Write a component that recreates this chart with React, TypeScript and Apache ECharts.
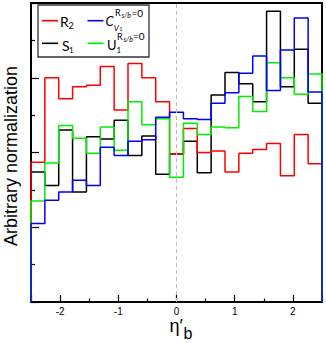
import React, { useEffect, useRef } from "react";
import * as echarts from "echarts";

// Histogram range and binning
const xMin = -2.5;
const xMax = 2.5;
const yMin = 0;
const yMax = 4;

// Bin contents (21 equal bins over [-2.5, 2.5]), arbitrary normalization
const valuesR2 = [1.87, 3.0, 2.72, 2.88, 2.9, 3.15, 2.57, 3.19, 3.0, 2.68, 1.98, 2.32, 2.0, 2.02, 1.74, 1.99, 2.04, 2.12, 1.69, 2.24, 1.85];
const valuesS1 = [1.74, 1.56, 2.3, 1.47, 2.21, 2.18, 2.43, 1.96, 2.22, 1.71, 1.98, 2.15, 1.73, 2.77, 3.07, 2.92, 2.68, 3.89, 2.88, 3.38, 2.66];
const valuesC = [1.05, 1.36, 1.47, 1.63, 1.56, 2.07, 1.96, 2.15, 2.17, 2.47, 2.54, 2.45, 2.44, 2.66, 2.8, 3.06, 3.29, 2.83, 3.37, 3.8, 2.81];
const valuesU = [1.35, 1.86, 2.36, 2.19, 1.99, 2.34, 2.03, 2.68, 2.37, 2.45, 1.67, 2.39, 2.24, 2.34, 2.33, 2.75, 2.55, 3.2, 3.0, 2.78, 3.05];

const COLORS = { R2: "#ff0000", S1: "#000000", C: "#0000ff", U: "#00ee00" };

function stepData(values: number[]): number[][] {
  const w = (xMax - xMin) / values.length;
  const pts: number[][] = [[xMin, 0]];
  values.forEach((v, i) => pts.push([xMin + i * w, v]));
  pts.push([xMax, values[values.length - 1]]);
  pts.push([xMax, 0]);
  return pts;
}

function histSeries(name: string, values: number[], color: string) {
  return {
    name,
    type: "line",
    step: "end",
    data: stepData(values),
    showSymbol: false,
    symbol: "none",
    clip: false,
    lineStyle: { color, width: 1.5 },
    itemStyle: { color },
    emphasis: { disabled: true },
  };
}

const SANS = "Liberation Sans";
const LEG = "Lato";

function txt(x: number, y: number, text: string, fontSize: number, opts: any = {}) {
  return {
    type: "text",
    x,
    y,
    z: 101,
    style: {
      text,
      fontSize,
      lineHeight: fontSize,
      fontFamily: opts.fontFamily || LEG,
      fontStyle: opts.italic ? "italic" : "normal",
      fill: "#000",
      align: opts.align || "left",
      verticalAlign: "middle",
    },
  };
}

export default function App() {
  const ref = useRef<HTMLDivElement>(null);
  useEffect(() => {
    if (!ref.current) return;
    const chart = echarts.init(ref.current, null, { renderer: "svg" });
    const legendLine = (x1: number, y: number, color: string) => ({
      type: "line",
      z: 101,
      shape: { x1, y1: y, x2: x1 + 16, y2: y },
      style: { stroke: color, lineWidth: 1.6 },
    });
    chart.setOption({
      animation: false,
      grid: { left: 31, right: 4, top: 3, bottom: 41, containLabel: false },
      xAxis: [
        {
          type: "value",
          min: xMin,
          max: xMax,
          position: "bottom",
          axisLine: { show: true, onZero: false, lineStyle: { color: "#000", width: 2 } },
          axisTick: { show: true, inside: true, length: 7, lineStyle: { color: "#000", width: 1.2 } },
          minorTick: { show: true, splitNumber: 2, length: 3.5, lineStyle: { color: "#000", width: 1.2 } },
          splitLine: { show: false },
          axisLabel: {
            show: true,
            margin: 4,
            fontSize: 10,
            fontFamily: SANS,
            color: "#000",
            formatter: (v: number) => (Number.isInteger(v) ? String(v) : ""),
          },
        },
        {
          type: "value",
          min: xMin,
          max: xMax,
          position: "top",
          axisLine: { show: true, onZero: false, lineStyle: { color: "#000", width: 2 } },
          axisTick: { show: false },
          axisLabel: { show: false },
          splitLine: { show: false },
        },
      ],
      yAxis: [
        {
          type: "value",
          min: yMin,
          max: yMax,
          interval: 1,
          position: "left",
          axisLine: { show: true, onZero: false, lineStyle: { color: "#000", width: 2 } },
          axisTick: { show: true, inside: true, length: 8, lineStyle: { color: "#000", width: 1.2 } },
          minorTick: { show: true, splitNumber: 2, length: 4, lineStyle: { color: "#000", width: 1.2 } },
          axisLabel: { show: false },
          splitLine: { show: false },
        },
        {
          type: "value",
          min: yMin,
          max: yMax,
          interval: 1,
          position: "right",
          axisLine: { show: true, onZero: false, lineStyle: { color: "#000", width: 2 } },
          axisTick: { show: false },
          axisLabel: { show: false },
          splitLine: { show: false },
        },
      ],
      series: [
        {
          name: "ref",
          type: "line",
          data: [],
          markLine: {
            silent: true,
            symbol: ["none", "none"],
            label: { show: false },
            lineStyle: { color: "#bbbbbb", type: [4, 3], width: 1 },
            data: [{ xAxis: 0 }],
          },
        },
        histSeries("S1", valuesS1, COLORS.S1),
        histSeries("R2", valuesR2, COLORS.R2),
        histSeries("U", valuesU, COLORS.U),
        histSeries("C", valuesC, COLORS.C),
      ],
      graphic: [
        {
          type: "rect",
          z: 100,
          shape: { x: 38, y: 5, width: 111, height: 52 },
          style: { fill: "#fff", stroke: "#333", lineWidth: 1.3 },
        },
        legendLine(42, 20.7, COLORS.R2),
        legendLine(42, 43.3, COLORS.S1),
        legendLine(87.5, 20.7, COLORS.C),
        legendLine(87.5, 43.3, COLORS.U),
        txt(60, 21.5, "R", 14),
        txt(68.5, 25.5, "2", 9),
        txt(62, 45, "S", 14),
        txt(69, 49.5, "1", 8),
        txt(105.5, 21, "C", 13, { italic: true }),
        txt(113.8, 28, "V", 8, { italic: true }),
        txt(119.5, 29, "1", 5),
        txt(115, 12.5, "R", 9),
        txt(121.5, 15, "s/b", 7, { italic: true }),
        txt(131.5, 12.5, "=0", 10),
        txt(107, 44.5, "U", 13),
        txt(116.5, 50, "1", 8),
        txt(117, 36, "R", 9),
        txt(123.5, 38.5, "s/b", 7, { italic: true }),
        txt(133, 36, "=0", 10),
        {
          type: "text",
          x: 11,
          y: 156,
          rotation: Math.PI / 2,
          style: {
            text: "Arbitrary normalization",
            fontSize: 18,
            fontFamily: SANS,
            fill: "#000",
            align: "center",
            verticalAlign: "middle",
          },
        },
        txt(169.5, 326, "η′", 18, { fontFamily: SANS }),
        txt(183.5, 333, "b", 16, { fontFamily: SANS }),
      ],
    });
    return () => chart.dispose();
  }, []);
  return (
    <div
      ref={ref}
      style={{ position: "fixed", left: 0, top: 0, width: 326, height: 343, background: "#fff" }}
    />
  );
}
